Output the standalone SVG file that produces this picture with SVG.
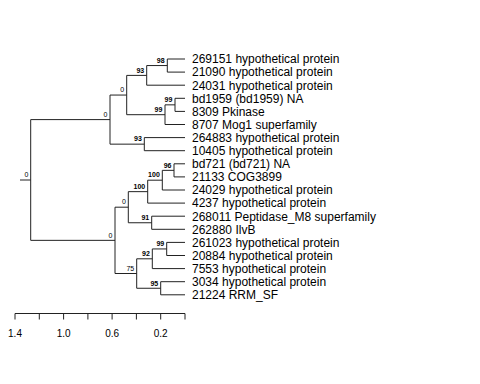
<svg xmlns="http://www.w3.org/2000/svg" width="480" height="384" viewBox="0 0 480 384">
<style>
.e{stroke:#222;stroke-width:1;fill:none}
.lf{font-family:"Liberation Sans",Arial,sans-serif;font-size:12px;fill:#000}
.bs{font-family:"Liberation Sans",Arial,sans-serif;font-size:7px;fill:#000;text-anchor:end}
.b{font-weight:bold}
.ax{font-family:"Liberation Sans",Arial,sans-serif;font-size:10px;fill:#000;text-anchor:middle}
</style>
<rect width="480" height="384" fill="#fff"/>
<g id="connectors">
<path class="e" d="M20,180H30.7M30.7,119.6V240.35M30.7,119.6H110M30.7,240.35H115"/>
<path class="e" d="M110,95.05V144.15M110,95.05H126.7M110,144.15H144.3"/>
<path class="e" d="M126.7,75.4V114.7M126.7,75.4H146.7M126.7,114.7H165"/>
<path class="e" d="M146.7,65.55V85.2M146.7,65.55H167.3M146.7,85.2H185"/>
<path class="e" d="M167.3,59V72.1M167.3,59H185M167.3,72.1H185"/>
<path class="e" d="M165,104.85V124.5M165,104.85H175M165,124.5H185"/>
<path class="e" d="M175,98.3V111.4M175,98.3H185M175,111.4H185"/>
<path class="e" d="M144.3,137.6V150.7M144.3,137.6H185M144.3,150.7H185"/>
<path class="e" d="M115,207.2V273.5M115,207.2H128.3M115,273.5H136.7"/>
<path class="e" d="M128.3,191.65V222.75M128.3,191.65H147.7M128.3,222.75H151.7"/>
<path class="e" d="M147.7,180.2V203.1M147.7,180.2H162.3M147.7,203.1H185"/>
<path class="e" d="M162.3,170.35V190M162.3,170.35H174M162.3,190H185"/>
<path class="e" d="M174,163.8V176.9M174,163.8H185M174,176.9H185"/>
<path class="e" d="M151.7,216.2V229.3M151.7,216.2H185M151.7,229.3H185"/>
<path class="e" d="M136.7,258.8V288.25M136.7,258.8H152.3M136.7,288.25H160.7"/>
<path class="e" d="M152.3,248.95V268.6M152.3,248.95H166.7M152.3,268.6H185"/>
<path class="e" d="M166.7,242.4V255.5M166.7,242.4H185M166.7,255.5H185"/>
<path class="e" d="M160.7,281.7V294.8M160.7,281.7H185M160.7,294.8H185"/>
</g>
<g id="bootstrap">
<text class="bs" x="28.3" y="177">0</text>
<text class="bs" x="107.5" y="116.8">0</text>
<text class="bs" x="124.2" y="92.3">0</text>
<text class="bs b" x="144.2" y="72.6">93</text>
<text class="bs b" x="164.6" y="62.8">98</text>
<text class="bs b" x="162.4" y="112">99</text>
<text class="bs b" x="172.4" y="102.1">99</text>
<text class="bs b" x="141.8" y="141.4">93</text>
<text class="bs" x="112.5" y="237.6">0</text>
<text class="bs" x="125.8" y="204.4">0</text>
<text class="bs b" x="145.2" y="188.9">100</text>
<text class="bs b" x="159.8" y="177.4">100</text>
<text class="bs b" x="171.5" y="167.6">96</text>
<text class="bs b" x="149.2" y="220">91</text>
<text class="bs" x="134.2" y="270.7">75</text>
<text class="bs b" x="149.8" y="256">92</text>
<text class="bs b" x="164.2" y="246.2">99</text>
<text class="bs b" x="158.2" y="285.5">95</text>
</g>
<g id="leaves">
<text class="lf" x="192" y="63.3">269151 hypothetical protein</text>
<text class="lf" x="192" y="76.4">21090 hypothetical protein</text>
<text class="lf" x="192" y="89.5">24031 hypothetical protein</text>
<text class="lf" x="192" y="102.6">bd1959 (bd1959) NA</text>
<text class="lf" x="192" y="115.7">8309 Pkinase</text>
<text class="lf" x="192" y="128.8">8707 Mog1 superfamily</text>
<text class="lf" x="192" y="141.9">264883 hypothetical protein</text>
<text class="lf" x="192" y="155">10405 hypothetical protein</text>
<text class="lf" x="192" y="168.1">bd721 (bd721) NA</text>
<text class="lf" x="192" y="181.2">21133 COG3899</text>
<text class="lf" x="192" y="194.3">24029 hypothetical protein</text>
<text class="lf" x="192" y="207.4">4237 hypothetical protein</text>
<text class="lf" x="192" y="220.5">268011 Peptidase_M8 superfamily</text>
<text class="lf" x="192" y="233.6">262880 IlvB</text>
<text class="lf" x="192" y="246.7">261023 hypothetical protein</text>
<text class="lf" x="192" y="259.8">20884 hypothetical protein</text>
<text class="lf" x="192" y="272.9">7553 hypothetical protein</text>
<text class="lf" x="192" y="286">3034 hypothetical protein</text>
<text class="lf" x="192" y="299.1">21224 RRM_SF</text>
</g>
<g id="axis">
<path class="e" d="M15,313.5H185M15,313.5V319.5M39.3,313.5V319.5M63.6,313.5V319.5M87.9,313.5V319.5M112.1,313.5V319.5M136.4,313.5V319.5M160.7,313.5V319.5M185,313.5V319.5"/>
<text class="ax" x="15" y="337">1.4</text>
<text class="ax" x="63.6" y="337">1.0</text>
<text class="ax" x="112.1" y="337">0.6</text>
<text class="ax" x="160.7" y="337">0.2</text>
</g>
</svg>
